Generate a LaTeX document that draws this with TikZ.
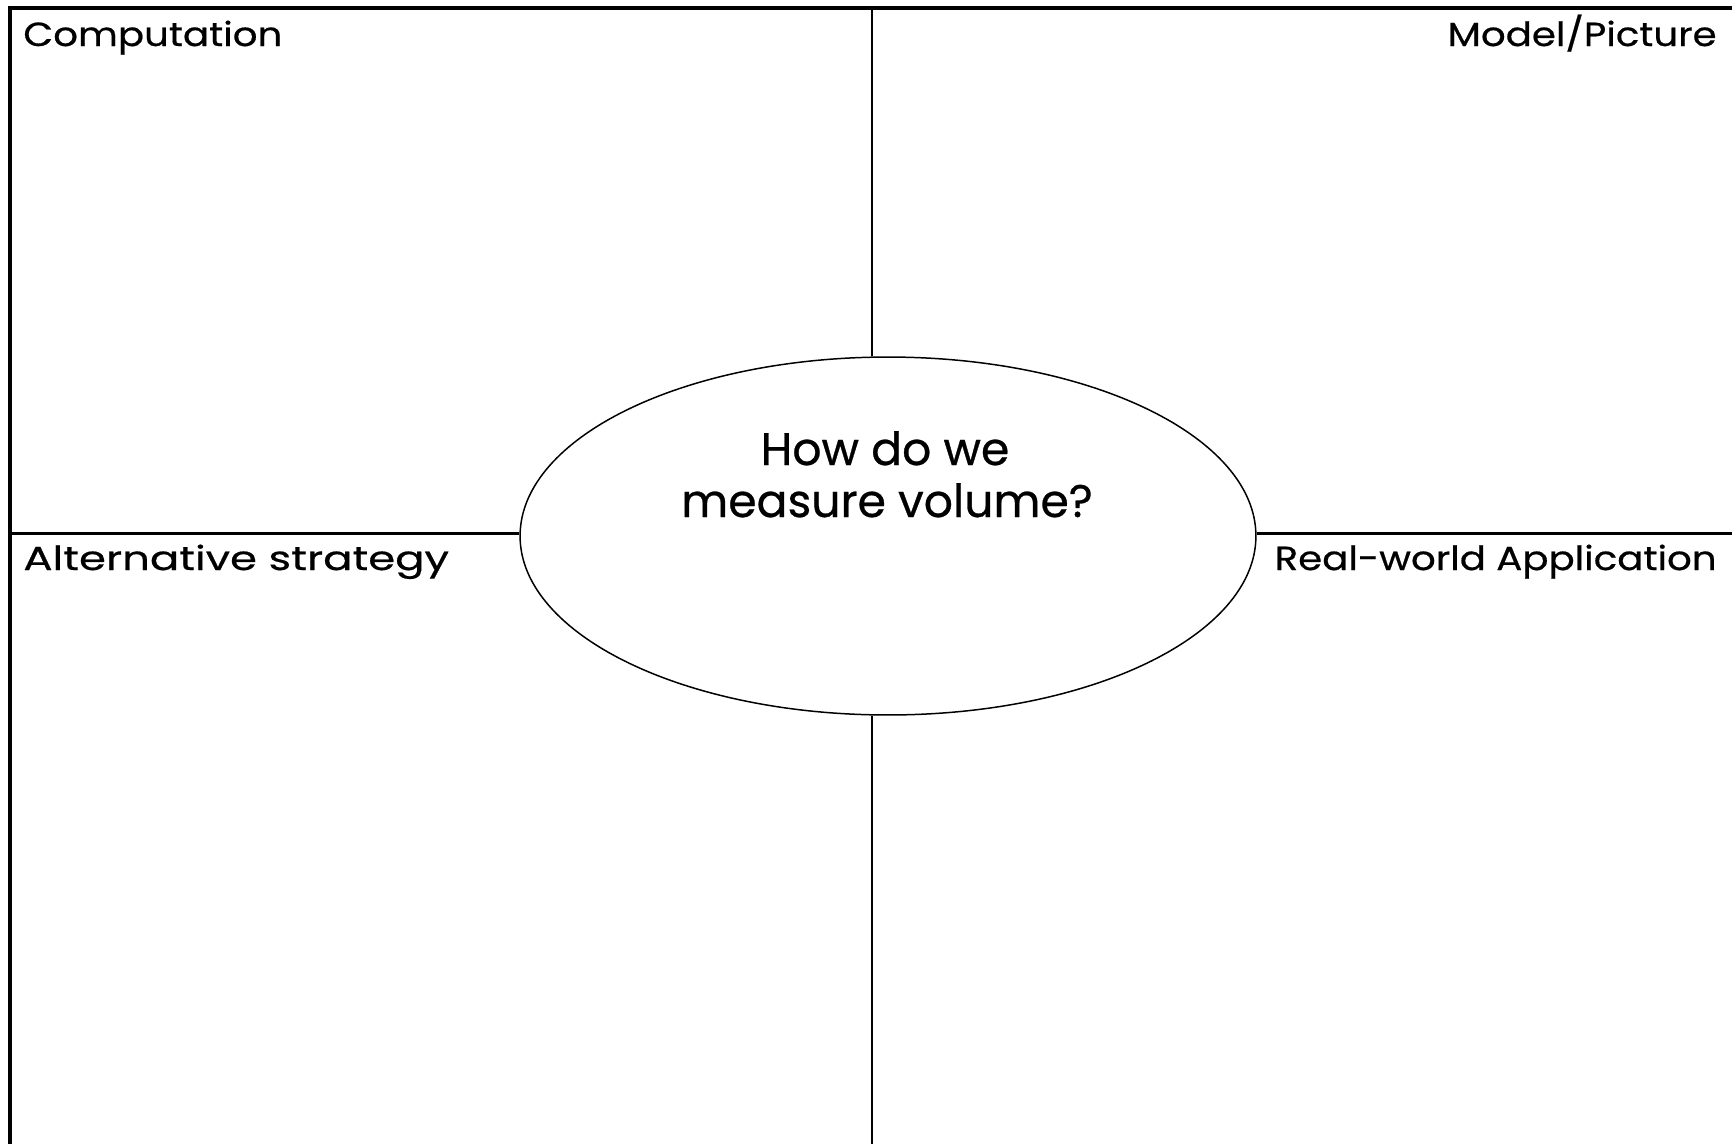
\documentclass[tikz,border=0pt]{standalone}
\usepackage{fontspec}
\setmainfont{Poppins}
\newfontfamily\cornerfont{Poppins}[FakeStretch=1.16,FakeBold=0.6]
\newfontfamily\widecornerfont{Poppins}[FakeStretch=1.3,FakeBold=0.6]
\newfontfamily\centerfont{Poppins}[FakeBold=0.6]
\usetikzlibrary{shapes.geometric}
\begin{document}
\begin{tikzpicture}[x=0.02cm,y=-0.02cm,
  label/.style={inner sep=0pt,font=\cornerfont\fontsize{19}{22}\selectfont},
  widelabel/.style={inner sep=0pt,font=\widecornerfont\fontsize{19}{22}\selectfont},
  center/.style={inner sep=0pt,align=center,font=\centerfont\fontsize{26}{31}\selectfont}]
\useasboundingbox (0,0) rectangle (1732,1144);
\coordinate (tl) at (10,8);
\coordinate (tr) at (1732,8);
\coordinate (bl) at (10,1144);
\draw[line width=2.3pt] (tr) -- (tl) -- (bl);
\node[draw,ellipse,line width=0.85pt,minimum width=14.72cm,minimum height=7.16cm,inner sep=0pt] (ell) at (888,536) {};
\coordinate (ml) at (10,533);
\coordinate (mr) at (1732,533);
\coordinate (vt) at (872,8);
\coordinate (vb) at (872,1144);
\draw[line width=1.7pt] (ml) -- (ell.west |- ml);
\draw[line width=1.7pt] (ell.east |- mr) -- (mr);
\draw[line width=1.1pt] (vt) -- (vt |- ell.north);
\draw[line width=1.1pt] (vb |- ell.south) -- (vb);
\node[label,anchor=base west] (comp) at (23,46) {Computation};
\node[label,anchor=base east] (model) at (1717,46) {Model/Picture};
\node[widelabel,anchor=base west] (alt) at (23,570) {Alternative strategy};
\node[label,anchor=base east] (real) at (1717,570) {Real-world Application};
\node[center,anchor=base] (q1) at (885,465) {How do we};
\node[center,anchor=base] (q2) at (887,517) {measure volume?};
\end{tikzpicture}
\end{document}
